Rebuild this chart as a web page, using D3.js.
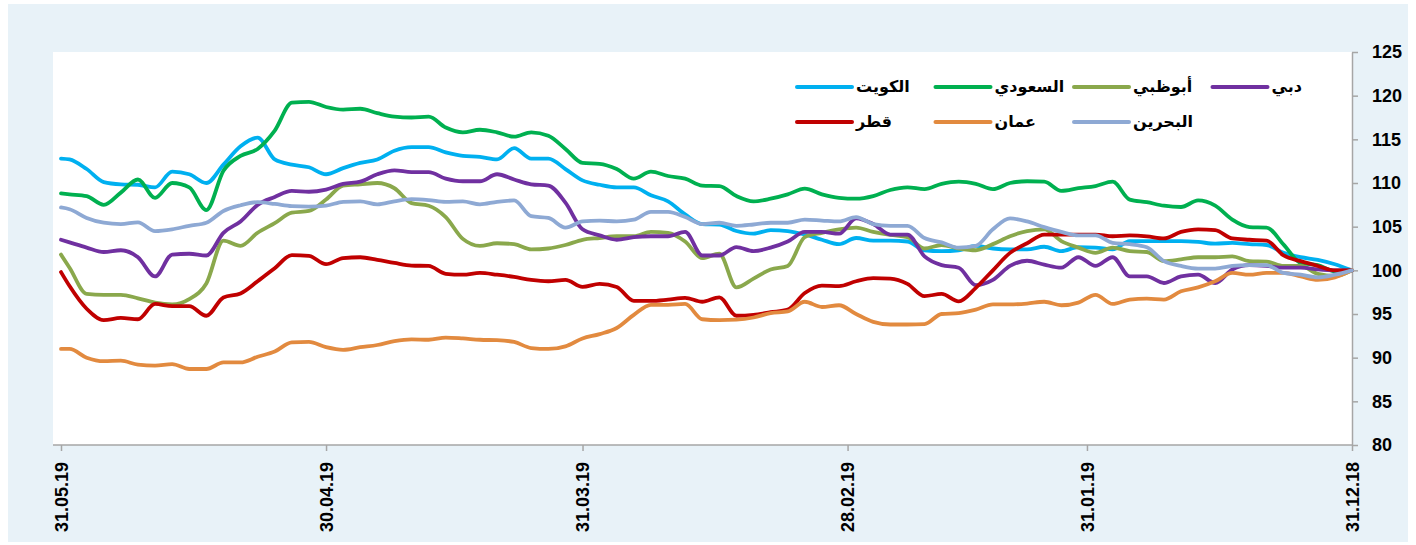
<!DOCTYPE html>
<html>
<head>
<meta charset="utf-8">
<style>
  body { margin: 0; background: #fff; }
  svg { display: block; }
  .axis path, .axis line { stroke: #a6a6a6; stroke-width: 1.5px; }
  .axis text { font: bold 18px "Liberation Sans", Arial, sans-serif; fill: #000; }
  .legend text { font: bold 16px "DejaVu Sans", sans-serif; fill: #000; }
  .series { fill: none; stroke-width: 3.8px; stroke-linejoin: round; stroke-linecap: round; }
</style>
</head>
<body>
<svg id="chart"></svg>
<script src="https://cdnjs.cloudflare.com/ajax/libs/d3/7.8.5/d3.min.js"></script>
<script>
// dates, newest first (chart runs right to left in time)
var dates = ["31.05.19","30.05.19","28.05.19","26.05.19","24.05.19","22.05.19","20.05.19","18.05.19","16.05.19","14.05.19",
  "12.05.19","10.05.19","08.05.19","06.05.19","04.05.19","02.05.19","30.04.19","28.04.19","26.04.19","24.04.19",
  "22.04.19","20.04.19","18.04.19","16.04.19","14.04.19","12.04.19","10.04.19","08.04.19","06.04.19","04.04.19",
  "02.04.19","31.03.19","29.03.19","27.03.19","25.03.19","23.03.19","21.03.19","19.03.19","17.03.19",
  "15.03.19","13.03.19","11.03.19","09.03.19","07.03.19","05.03.19","03.03.19","01.03.19","27.02.19","25.02.19",
  "23.02.19","21.02.19","19.02.19","17.02.19","15.02.19","13.02.19","11.02.19","09.02.19","07.02.19",
  "05.02.19","03.02.19","01.02.19","30.01.19","28.01.19","26.01.19","24.01.19","22.01.19","20.01.19","18.01.19",
  "16.01.19","14.01.19","12.01.19","10.01.19","08.01.19","06.01.19","04.01.19","02.01.19","31.12.18"];

var kuwait = [112.8,112.7,111.6,110.1,109.85,109.8,109.5,111.3,111.0,110.0,112.1,114.2,115.2,112.7,112.1,111.8,111.0,111.7,112.3,112.7,
  113.7,114.1,114.1,113.5,113.1,113.0,112.7,114.0,112.8,112.8,111.6,110.3,109.8,109.5,109.5,108.6,107.9,106.4,105.3,
  105.25,104.5,104.2,104.6,104.5,104.1,103.5,103.0,103.7,103.4,103.4,103.3,102.3,102.2,102.3,102.8,102.5,102.4,102.4,
  102.7,102.2,102.65,102.6,102.4,103.35,103.35,103.35,103.35,103.25,103.05,103.15,103.0,102.9,102.0,101.5,101.2,100.7,100];

var saudi = [108.8,108.7,108.5,107.5,108.9,110.4,108.3,110.0,109.5,106.9,111.4,113.1,113.9,116.0,119.2,119.3,118.7,118.4,118.5,118.0,
  117.6,117.5,117.6,116.35,115.8,116.1,115.8,115.3,115.8,115.4,113.9,112.3,112.2,111.6,110.5,111.3,110.8,110.5,109.7,
  109.65,108.5,107.9,108.2,108.7,109.35,108.7,108.3,108.2,108.5,109.2,109.5,109.3,109.9,110.15,109.9,109.3,110.0,110.2,
  110.15,109.1,109.4,109.65,110.15,108.1,107.8,107.4,107.25,108.0,107.4,105.8,104.95,104.9,102.95,100.85,100.6,99.9,100];

var abuDhabi = [101.8,100.3,97.3,97.2,97.2,96.8,96.3,96.1,96.7,98.5,103.4,102.8,104.3,105.4,106.6,106.8,108.1,109.7,109.85,110.0,
  109.4,107.7,107.4,106.1,103.6,102.8,103.1,103.0,102.4,102.5,102.9,103.5,103.7,103.9,103.9,104.4,104.3,103.3,101.4,
  101.9,98.05,99.05,100.1,100.5,103.8,104.3,104.7,104.9,104.4,104.05,103.8,102.5,102.9,102.5,102.3,103.0,103.9,104.5,
  104.7,103.35,102.6,102.0,102.6,102.2,102.1,101.05,101.25,101.5,101.5,101.6,101.05,101.0,100.5,100.5,99.6,99.35,100];

var dubai = [103.5,103.2,102.6,102.1,102.3,101.5,99.3,101.8,101.9,101.7,104.3,105.6,107.5,108.4,109.1,109.0,109.25,109.9,110.15,111.0,
  111.45,111.25,111.25,110.5,110.2,110.2,111.0,110.4,109.85,109.7,107.75,104.7,104.0,103.5,103.8,103.9,103.9,104.4,101.7,
  101.7,102.65,102.2,102.6,103.3,104.4,104.4,104.2,105.95,105.3,104.1,104.1,101.6,100.6,100.3,98.3,98.9,100.5,101.1,
  100.65,100.3,101.5,100.5,101.5,99.3,99.3,98.55,99.3,99.5,98.55,100.1,100.6,100.5,100.3,100.3,100.1,100.0,100];

var qatar = [99.8,98.2,95.6,94.3,94.55,94.4,96.15,95.9,95.9,94.8,96.9,97.35,98.75,100.25,101.75,101.65,100.7,101.4,101.5,101.2,
  100.85,100.55,100.5,99.6,99.5,99.7,99.5,99.25,98.9,98.75,98.9,98.1,98.45,98.1,96.5,96.5,96.65,96.85,96.4,
  96.9,94.8,94.9,95.2,95.5,97.4,98.25,98.2,98.75,99.1,99.05,98.45,97.05,97.3,96.45,98.0,100.0,102.0,103.1,
  104.1,104.1,104.1,104.1,103.9,104.0,103.9,103.65,104.4,104.7,104.6,103.65,103.5,103.4,101.7,101.05,100.5,100.0,100];

var oman = [91.0,91.0,90.0,89.6,89.65,89.2,89.1,89.25,88.7,88.7,89.45,89.45,90.1,90.7,91.75,91.8,91.2,90.9,91.2,91.45,
  91.9,92.1,92.05,92.3,92.2,92.05,92.0,91.8,91.1,91.0,91.3,92.2,92.7,93.4,94.9,96.05,96.05,96.15,94.4,
  94.3,94.35,94.6,95.1,95.3,96.4,95.8,96.0,95.0,94.1,93.8,93.8,93.85,95.0,95.1,95.5,96.1,96.1,96.2,
  96.4,96.0,96.3,97.2,96.15,96.65,96.75,96.65,97.6,98.05,98.75,99.7,99.5,99.7,99.7,99.3,98.9,99.2,100];

var bahrain = [107.2,107.0,106.0,105.45,105.3,105.5,104.5,104.7,105.1,105.45,106.8,107.45,107.8,107.6,107.35,107.3,107.4,107.85,107.9,107.55,
  107.9,108.15,108.05,107.85,107.9,107.55,107.85,108.0,106.2,106.0,104.9,105.6,105.7,105.6,105.8,106.7,106.7,106.1,105.3,
  105.45,105.1,105.25,105.45,105.45,105.8,105.7,105.6,106.1,105.3,105.1,105.1,103.7,103.2,102.6,102.8,104.7,105.95,105.6,
  104.95,104.4,104.0,104.0,103.15,103.0,102.65,101.05,100.5,100.2,100.2,100.5,100.6,100.6,99.7,99.5,99.2,99.5,100];

var names = ["الكويت", "السعودي", "أبوظبي", "دبي", "قطر", "عمان", "البحرين"];
var colors = ["#00b0f0", "#00b050", "#8aa84c", "#7030a0", "#c00000", "#e28a3f", "#8ea9d4"];
var values = [kuwait, saudi, abuDhabi, dubai, qatar, oman, bahrain];

var yTicks = [80, 85, 90, 95, 100, 105, 110, 115, 120, 125];
var xTickLabels = ["31.05.19", "30.04.19", "31.03.19", "28.02.19", "31.01.19", "31.12.18"];

var width = 1416, height = 545;
var plot = {left: 53, top: 52, right: 1352, bottom: 445};

var parse = d3.timeParse("%d.%m.%y"),
    fmt = d3.timeFormat("%d.%m.%y");

var svg = d3.select("#chart").attr("width", width).attr("height", height);

svg.append("rect")
   .attr("x", 8).attr("y", 4)
   .attr("width", 1400).attr("height", 538)
   .style("fill", "#e8f2f8");

svg.append("rect")
   .attr("x", plot.left).attr("y", plot.top)
   .attr("width", plot.right - plot.left).attr("height", plot.bottom - plot.top)
   .style("fill", "#fff");

var x = d3.scaleTime()
          .domain([parse("31.05.19"), parse("31.12.18")])
          .range([61, plot.right]);

var y = d3.scaleLinear()
          .domain([80, 125])
          .range([plot.bottom, plot.top]);

// x axis
var xAxis = svg.append("g")
   .attr("class", "axis")
   .attr("transform", "translate(0," + plot.bottom + ")")
   .call(d3.axisBottom(x)
           .tickValues(xTickLabels.map(parse))
           .tickFormat(fmt)
           .tickSize(6)
           .tickSizeOuter(0));

xAxis.select(".domain").remove();
xAxis.append("line")
     .attr("x1", plot.left).attr("x2", plot.right)
     .attr("y1", 0).attr("y2", 0);

xAxis.selectAll(".tick text")
     .attr("transform", "rotate(-90)")
     .attr("x", -17)
     .attr("y", 0)
     .attr("dy", "0.35em")
     .style("text-anchor", "end");

// y axis on the right
svg.append("g")
   .attr("class", "axis")
   .attr("transform", "translate(" + plot.right + ",0)")
   .call(d3.axisRight(y)
           .tickValues(yTicks)
           .tickSize(6)
           .tickPadding(14)
           .tickSizeOuter(0));

// series
var line = d3.line()
   .curve(d3.curveMonotoneX)
   .x(function(d){ return x(d.date); })
   .y(function(d){ return y(d.value); });

values.forEach(function(vals, i){
  var pts = vals.map(function(v, j){ return {date: parse(dates[j]), value: v}; });
  svg.append("path")
     .datum(pts)
     .attr("class", "series")
     .attr("d", line)
     .style("stroke", colors[i]);
});

// legend
var legend = svg.append("g").attr("class", "legend");
names.forEach(function(n, i){
  var col = i % 4, row = Math.floor(i / 4);
  var lx = 797 + col * 138.5, ly = 87 + row * 35;
  legend.append("line")
        .attr("x1", lx).attr("x2", lx + 55)
        .attr("y1", ly).attr("y2", ly)
        .style("stroke", colors[i])
        .style("stroke-width", 4)
        .style("stroke-linecap", "round");
  legend.append("text")
        .attr("x", lx + 59)
        .attr("y", ly)
        .attr("dy", "0.32em")
        .text(n);
});
</script>
</body>
</html>
